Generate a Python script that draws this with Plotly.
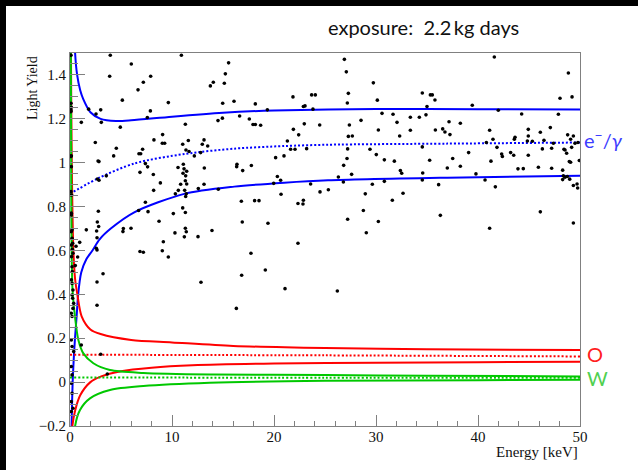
import plotly.graph_objects as go

# ---------------- data ----------------
energy_kev = [
    3.95, 10.92, 6.01, 15.55, 15.23, 3.89, 7.91, 7.19, 14.05, 13.76, 15.13, 6.67, 21.86, 23.69, 24.05,
    5.13, 9.64, 14.97, 16.08, 18.17, 1.83, 3.01, 2.55, 7.88, 7.58, 19.35, 22.88, 23.04, 23.82, 1.11,
    3.07, 4.93, 11.31, 14.51, 14.94, 16.63, 17.58, 17.94, 18.17, 18.69, 21.9, 22.97, 24.48, 22.42, 21.31,
    21.63, 22.06, 23.2, 2.48, 4.54, 8.23, 9.08, 9.05, 9.28, 11.05, 11.6, 13.14, 12.97, 13.5, 12.81,
    11.37, 11.67, 12.19, 7.12, 6.93, 6.76, 4.28, 2.75, 2.84, 7.39, 7.61, 10.59, 11.11, 11.18, 11.08,
    11.44, 11.34, 11.31, 11.44, 13.17, 16.37, 16.34, 16.93, 17.78, 20.16, 20.98, 6.86, 8.17, 3.56, 2.68,
    2.84, 20.33, 19.97, 20.65, 13.14, 12.58, 10.85, 10.62, 11.24, 8.86, 8.2, 10.33, 11.4, 11.34, 7.39,
    7.65, 6.73, 11.05, 11.31, 10.13, 14.54, 16.8, 18.1, 18.53, 22.35, 22.88, 22.84, 23.59, 24.51, 20.69,
    2.78, 2.68, 2.81, 1.6, 2.61, 5.23, 5.19, 5.98, 8.73, 10.29, 11.31, 11.4, 11.21, 12.55, 13.92,
    16.89, 19.41,
    26.9, 27.09, 41.6, 29.74, 27.29, 27.19, 30.13, 34.54, 35.33, 35.52, 35.78, 35.0, 39.44, 41.99, 48.86,
    49.22, 48.04, 30.59, 31.67, 28.53, 32.06, 33.37, 34.25, 34.9, 37.16, 38.27, 44.28, 47.88, 27.39, 30.23,
    27.68, 27.29, 32.32, 35.82, 36.54, 36.76, 37.25, 33.37, 41.14, 41.47, 40.82, 41.86, 27.22, 29.41, 30.03,
    27.16, 30.82, 31.8, 34.54, 35.26, 37.52, 39.08, 42.32, 42.39, 43.2, 43.5, 43.56, 43.63, 44.93, 44.93,
    44.84, 45.33, 46.11, 46.47, 47.09, 47.39, 46.31, 47.22, 44.93, 48.43, 48.53, 48.69, 48.79, 49.08, 49.35,
    49.18, 49.51, 49.8, 48.95, 49.08, 49.93, 26.83, 27.61, 26.31, 26.8, 25.33, 29.64, 30.82, 32.39, 32.52,
    34.58, 34.54, 36.99, 38.27, 39.8, 40.69, 41.27, 41.7, 36.14, 43.92, 44.44, 45.92, 47.22, 48.3, 48.37,
    48.3, 48.53, 48.76, 48.99, 49.35, 49.71, 49.77, 28.95, 32.65, 31.6, 28.76, 27.22, 30.23, 29.05, 36.31,
    41.14, 46.11, 49.35,
    2.65, 2.65, 2.58, 0.95, 0.59, 0.75, 0.52, 3.24, 2.65, 2.65, 6.86, 7.19, 9.05, 9.15, 9.64,
    17.74, 16.83, 19.15, 12.84, 16.31, 21.08, 22.35, 1.11, 3.01, 3.66, 26.21,
    0.1, 0.1, 0.13, 0.1, 0.1, 0.13, 0.1, 0.13, 0.1, 0.16, 0.13, 0.13, 0.2, 0.13, 0.2,
    0.26, 0.16, 0.23, 0.29, 0.16, 0.2, 0.23, 0.13, 0.2, 0.29, 0.2, 0.26, 0.36, 0.29, 0.13,
    0.2, 0.13, 0.2, 0.36, 0.13, 0.2, 0.13, 0.2, 0.13, 0.29, 0.13,
]
light_yield = [
    1.49, 1.49, 1.45, 1.455, 1.405, 1.394, 1.394, 1.367, 1.367, 1.35, 1.362, 1.332, 1.30, 1.309, 1.309,
    1.285, 1.274, 1.271, 1.28, 1.268, 1.244, 1.241, 1.222, 1.236, 1.206, 1.241, 1.256, 1.259, 1.244, 1.184,
    1.184, 1.162, 1.175, 1.192, 1.203, 1.213, 1.199, 1.174, 1.174, 1.171, 1.152, 1.177, 1.172, 1.127, 1.099,
    1.061, 1.061, 1.064, 1.092, 1.066, 1.104, 1.128, 1.089, 1.089, 1.084, 1.101, 1.104, 1.084, 1.076, 1.046,
    1.058, 1.051, 1.031, 1.061, 1.041, 1.041, 1.031, 1.008, 1.005, 0.996, 0.981, 0.978, 0.993, 0.972, 0.952,
    0.961, 0.94, 0.918, 0.903, 0.976, 0.993, 0.982, 0.964, 0.987, 1.023, 1.031, 0.956, 0.946, 0.94, 0.926,
    0.92, 0.937, 0.906, 0.92, 0.902, 0.882, 0.902, 0.874, 0.874, 0.908, 0.874, 0.858, 0.858, 0.846, 0.82,
    0.777, 0.782, 0.794, 0.773, 0.768, 0.879, 0.824, 0.827, 0.827, 0.814, 0.829, 0.812, 0.903, 0.867, 0.856,
    0.779, 0.73, 0.709, 0.694, 0.689, 0.70, 0.686, 0.701, 0.733, 0.68, 0.701, 0.685, 0.662, 0.663, 0.691,
    0.73, 0.724,
    1.471, 1.414, 1.482, 1.364, 1.316, 1.272, 1.285, 1.318, 1.309, 1.309, 1.286, 1.256, 1.262, 1.239, 1.409,
    1.30, 1.294, 1.225, 1.221, 1.193, 1.184, 1.207, 1.207, 1.218, 1.187, 1.18, 1.222, 1.221, 1.172, 1.149,
    1.122, 1.12, 1.122, 1.149, 1.154, 1.14, 1.128, 1.148, 1.148, 1.107, 1.092, 1.07, 1.063, 1.061, 1.037,
    1.019, 1.013, 1.007, 1.072, 1.011, 1.019, 1.046, 1.04, 1.028, 1.046, 1.034, 1.107, 1.116, 1.152, 1.122,
    1.099, 1.098, 1.139, 1.102, 1.16, 1.089, 1.063, 1.066, 1.034, 1.061, 1.058, 1.043, 1.127, 1.107, 1.122,
    1.07, 1.089, 1.092, 1.005, 1.002, 1.01, 0.988, 0.947, 0.935, 0.912, 0.877, 0.902, 0.915, 0.964, 0.952,
    0.953, 0.921, 0.976, 0.984, 0.949, 0.921, 1.007, 0.89, 0.9, 0.972, 0.973, 0.979, 0.975, 0.966, 0.94,
    0.923, 0.934, 0.937, 0.925, 0.896, 0.903, 0.885, 0.858, 0.861, 0.829, 0.782, 0.742, 0.732, 0.681, 0.76,
    0.701, 0.776, 0.725,
    0.658, 0.602, 0.61, 0.637, 0.619, 0.57, 0.531, 0.494, 0.456, 0.35, 0.595, 0.592, 0.599, 0.64, 0.57,
    0.587, 0.487, 0.511, 0.455, 0.336, 0.426, 0.633, 0.169, 0.127, 0.037, 0.415,
    1.49, 1.271, 1.253, 1.24, 1.233, 1.032, 1.028, 0.982, 0.868, 0.853, 0.77, 0.762, 0.694, 0.686, 0.656,
    0.633, 0.625, 0.605, 0.587, 0.572, 0.526, 0.504, 0.466, 0.45, 0.42, 0.397, 0.382, 0.359, 0.336, 0.314,
    0.299, 0.192, 0.162, 0.139, 0.071, 0.033, -0.005, -0.051, -0.089, -0.119, -0.134,
]

# band curves
eg_upper_e = [0.45, 0.5, 0.7, 1.0, 1.3, 2.0, 3.0, 4.5, 6.0, 10.0, 15.0, 20.0, 30.0, 40.0, 50.0]
eg_upper_y = [1.6, 1.5, 1.4, 1.33, 1.29, 1.23, 1.20, 1.19, 1.193, 1.21, 1.228, 1.238, 1.245, 1.244, 1.242]
eg_mean_e = [0.0, 0.33, 2.75, 6.34, 11.24, 16.1, 21.0, 25.3, 37.0, 50.0]
eg_mean_y = [0.862, 0.868, 0.929, 0.997, 1.04, 1.064, 1.076, 1.082, 1.087, 1.092]
eg_lower_e = [0.13, 0.2, 0.26, 0.36, 0.49, 0.65, 0.8, 1.1, 1.6, 2.2, 2.9, 4.0, 6.3, 11.2, 16.1, 21.0, 25.3, 37.0, 50.0]
eg_lower_y = [-0.25, -0.1, 0.0, 0.1, 0.2, 0.3, 0.4, 0.5, 0.56, 0.6, 0.651, 0.70, 0.774, 0.858, 0.891, 0.909, 0.92, 0.932, 0.941]

o_upper_e = [0.09, 0.12, 0.2, 0.33, 0.5, 0.72, 1.14, 2.0, 3.0, 6.0, 10.0, 16.0, 25.0, 35.0, 50.0]
o_upper_y = [1.55, 1.3, 0.9, 0.6, 0.47, 0.4, 0.3, 0.24, 0.219, 0.192, 0.181, 0.165, 0.155, 0.15, 0.146]
o_mean_e = [0.0, 25.0, 50.0]
o_mean_y = [0.125, 0.122, 0.117]
o_lower_e = [0.18, 0.23, 0.5, 1.0, 2.0, 3.0, 5.0, 8.0, 12.0, 20.0, 30.0, 40.0, 50.0]
o_lower_y = [-0.25, -0.2, -0.13, -0.06, 0.0, 0.025, 0.05, 0.066, 0.077, 0.085, 0.088, 0.091, 0.093]

w_upper_e = [0.08, 0.12, 0.16, 0.25, 0.49, 0.82, 1.31, 2.29, 3.92, 7.2, 14.0, 25.0, 35.0, 50.0]
w_upper_y = [1.55, 0.9, 0.6, 0.42, 0.298, 0.192, 0.131, 0.086, 0.055, 0.042, 0.035, 0.032, 0.029, 0.026]
w_mean_e = [0.0, 25.0, 50.0]
w_mean_y = [0.021, 0.02, 0.02]
w_lower_e = [0.45, 0.49, 0.98, 1.96, 3.92, 7.19, 13.7, 25.0, 40.0, 50.0]
w_lower_y = [-0.25, -0.203, -0.127, -0.074, -0.036, -0.018, -0.003, 0.006, 0.009, 0.011]

BLUE = "#0000ff"
RED = "#ff0000"
GREEN = "#00c800"

fig = go.Figure()

def band(xs, ys, color, dotted=False):
    fig.add_trace(go.Scatter(
        x=xs, y=ys, mode="lines",
        line=dict(color=color, width=2, shape="spline", smoothing=0.8,
                  dash="2px,2px" if dotted else "solid"),
        hoverinfo="skip", showlegend=False))

band(eg_upper_e, eg_upper_y, BLUE)
band(eg_mean_e, eg_mean_y, BLUE, dotted=True)
band(eg_lower_e, eg_lower_y, BLUE)
band(o_upper_e, o_upper_y, RED)
band(o_mean_e, o_mean_y, RED, dotted=True)
band(o_lower_e, o_lower_y, RED)
band(w_upper_e, w_upper_y, GREEN)
band(w_mean_e, w_mean_y, GREEN, dotted=True)
band(w_lower_e, w_lower_y, GREEN)

fig.add_trace(go.Scatter(
    x=energy_kev, y=light_yield, mode="markers",
    marker=dict(color="black", size=3.6, symbol="circle"),
    showlegend=False))

L, R, T, B = 70, 58, 53, 44
W, H = 638, 470
pw, ph = W - L - R, H - T - B

def px(xp):
    return (xp - L) / pw

def py(yp):
    return (H - B - yp) / ph

serif = "Liberation Serif"
axis_common = dict(showline=True, linecolor="#808080", linewidth=1, mirror=True,
                   showgrid=False, zeroline=False, ticks="inside", tickcolor="#808080",
                   tickfont=dict(family=serif, size=15, color="#111"))

fig.update_xaxes(range=[0, 50], dtick=10, tick0=0, ticklen=11, ticklabelstandoff=-3,
                 minor=dict(dtick=2, ticklen=5, tickcolor="#808080", ticks="inside"),
                 **axis_common)
fig.update_yaxes(range=[-0.2, 1.5], dtick=0.2, tick0=0, ticklen=15,
                 minor=dict(dtick=0.05, ticklen=8, tickcolor="#808080", ticks="inside"),
                 **axis_common)

annotations = [
    dict(text="exposure:\u00a0 2.2\u2009kg days", xref="paper", yref="paper", x=px(423.5), y=py(27),
         xanchor="center", yanchor="middle", showarrow=False,
         font=dict(family="Lato", size=20, color="#111")),
    dict(text="Light Yield", xref="paper", yref="paper", x=px(33), y=py(88), textangle=-90,
         xanchor="center", yanchor="middle", showarrow=False,
         font=dict(family=serif, size=14, color="#111")),
    dict(text="Energy [keV]", xref="paper", yref="paper", x=1.0, y=py(452),
         xanchor="right", yanchor="middle", showarrow=False,
         font=dict(family=serif, size=15, color="#111")),
    dict(text="e<sup>−</sup>/<i>γ</i>", xref="paper", yref="y", x=px(582), y=1.108,
         xanchor="left", yanchor="middle", showarrow=False,
         font=dict(family="Lato", size=20, color="#3c3cff")),
    dict(text="O", xref="paper", yref="y", x=px(585), y=0.128,
         xanchor="left", yanchor="middle", showarrow=False,
         font=dict(family="Lato", size=20, color="#ff2020")),
    dict(text="W", xref="paper", yref="y", x=px(585), y=0.019,
         xanchor="left", yanchor="middle", showarrow=False,
         font=dict(family="Lato", size=20, color="#50d050")),
]

shapes = [
    dict(type="rect", xref="paper", yref="paper", x0=px(-5), x1=px(6), y0=py(480), y1=py(-5),
         fillcolor="black", line=dict(width=0), layer="above"),
    dict(type="rect", xref="paper", yref="paper", x0=px(-5), x1=px(645), y0=py(6), y1=py(-5),
         fillcolor="black", line=dict(width=0), layer="above"),
]

fig.update_layout(
    width=W, height=H,
    margin=dict(l=L, r=R, t=T, b=B),
    paper_bgcolor="white", plot_bgcolor="white",
    annotations=annotations, shapes=shapes,
    showlegend=False,
)

fig.write_html("out.html")
